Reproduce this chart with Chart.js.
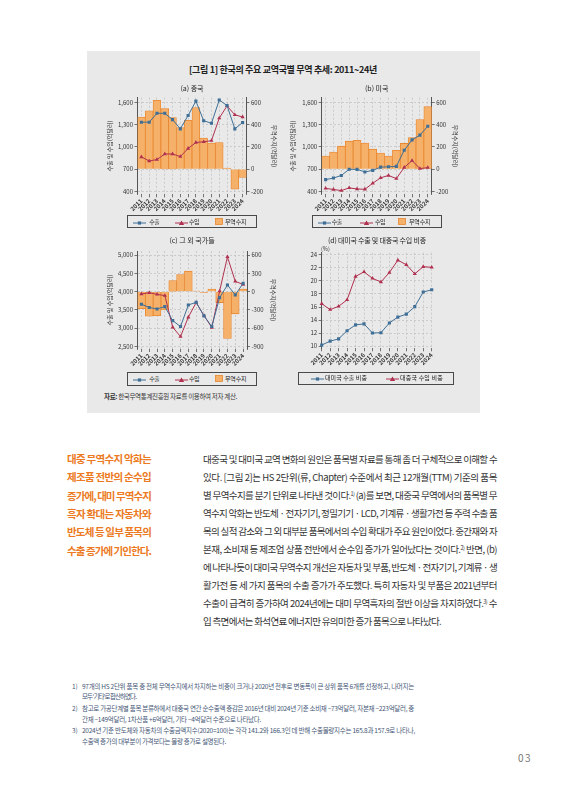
<!DOCTYPE html>
<html><head><meta charset="utf-8">
<script src="https://cdn.jsdelivr.net/npm/chart.js@4.4.1/dist/chart.umd.min.js"></script>
<style>
html,body{margin:0;padding:0;background:#fff;}
body{width:566px;height:800px;position:relative;overflow:hidden;font-family:'Noto Sans CJK KR','Noto Sans',sans-serif;color:#333;}
#box{position:absolute;left:87px;top:51px;width:393px;height:362px;background:#e9e9e9;}
canvas{position:absolute;}
.t{position:absolute;white-space:nowrap;line-height:12px;}
.t sup{font-size:5.5px;vertical-align:3px;line-height:0;}
.lg{position:absolute;border:1px solid #4a4a4a;box-sizing:border-box;}
.ic{position:absolute;line-height:0;}
</style>
</head><body>
<div id="box"></div>
<canvas id="cA" width="190" height="125" style="left:98px;top:92px"></canvas>
<canvas id="cB" width="190" height="125" style="left:283px;top:92px"></canvas>
<canvas id="cC" width="190" height="125" style="left:98px;top:245px"></canvas>
<canvas id="cD" width="190" height="125" style="left:283px;top:245px"></canvas>
<script>
// ---------- DATA ----------
const years = ['2011','2012','2013','2014','2015','2016','2017','2018','2019','2020','2021','2022','2023','2024'];
const chinaExports = [1335,1335,1455,1455,1370,1245,1425,1620,1355,1320,1635,1560,1245,1330];
const chinaImports = [865,810,830,905,905,870,980,1060,1070,1085,1390,1555,1435,1405];
const chinaBalance = [470,525,620,545,465,375,440,555,280,235,240,10,-180,-75];
const usExports = [558,580,615,698,697,662,684,727,732,737,955,1096,1160,1280];
const usImports = [440,425,410,447,432,428,510,583,615,572,723,815,708,720];
const usBalance = [118,154,207,252,260,235,180,145,118,170,232,285,447,563];
const otherExports = [3655,3565,3525,3590,3205,3045,3635,3705,3335,3045,3835,4180,3910,4225];
const otherImports = [3935,3970,3925,3890,3025,2770,3300,3700,3345,3015,4015,4950,4280,4195];
const otherBalance = [-280,-405,-395,-300,180,280,335,10,-15,40,-180,-770,-365,40];
const usExportShare = [10.15,10.75,11.1,12.35,13.25,13.4,12.0,12.05,13.55,14.45,14.9,16.05,18.3,18.65];
const chinaImportShare = [16.5,15.6,16.1,17.1,20.7,21.4,20.4,19.85,21.3,23.2,22.5,21.1,22.2,22.1];
const tradeTicks = [400,700,1000,1300,1600];
const balanceTicks = [-200,0,200,400,600];
const otherTradeTicks = [2500,3000,3500,4000,4500,5000];
const otherBalanceTicks = [-900,-600,-300,0,300,600];
const shareTicks = [10,12,14,16,18,20,22,24];

// ---------- STYLE ----------
const BLUE='#3f6f96', RED='#b0304f', ORANGE='#f5b069', ORANGE_D='#e8862e', GRID='#b8b8b8', AX='#555';
Chart.defaults.font.family="'Noto Sans CJK KR','Noto Sans',sans-serif";
Chart.defaults.font.size=6;
Chart.defaults.color='#333';

function xScale(h, offset){
  return {type:'category', offset:offset,
    grid:{display:true, offset:false, color:GRID, lineWidth:0.6, drawTicks:true, tickLength:3, tickColor:AX, tickWidth:0.8},
    border:{display:false, dash:[2,2]},
    ticks:{minRotation:45, maxRotation:45, autoSkip:false, padding:0, font:{size:6, weight:'bold'}, color:'#333'},
    afterFit:s=>{s.height=h;}};
}
function fmt(v){return Number(v).toLocaleString('en-US');}
function yScale(pos, min, max, ticks, w, title, titlePad, grid){
  const o={position:pos, min:min, max:max,
    afterBuildTicks:s=>{s.ticks=ticks.map(v=>({value:v}));},
    afterFit:s=>{s.width=w;},
    grid:{display:true, drawOnChartArea:grid, color:GRID, lineWidth:0.6, drawTicks:true, tickLength:3, tickColor:AX, tickWidth:0.8},
    border:{display:true, color:AX, width:1, dash:[2,2]},
    ticks:{padding:1.5, font:{size:6}, color:'#333', callback:v=>fmt(v)}};
  if(title){o.title={display:true, text:title, font:{size:6}, color:'#333', padding:{top:titlePad,bottom:0}};}
  return o;
}
function tradeChart(id, exp, imp, bal, lt, rt, lmin, lmax, rmin, rmax, g){
  return new Chart(document.getElementById(id),{
    type:'bar',
    data:{labels:years, datasets:[
      {type:'line', label:'수출', data:exp, yAxisID:'y', borderColor:BLUE, backgroundColor:BLUE, borderWidth:1, pointStyle:'rect', pointRadius:2.2, pointBorderWidth:0, order:1},
      {type:'line', label:'수입', data:imp, yAxisID:'y', borderColor:RED, backgroundColor:RED, borderWidth:1, pointStyle:'triangle', pointRadius:2.4, pointBorderWidth:0, order:2},
      {type:'bar', label:'무역수지', data:bal, yAxisID:'y1', backgroundColor:ORANGE, borderColor:ORANGE_D, borderWidth:0.8, barPercentage:1, categoryPercentage:1, order:3}
    ]},
    options:{responsive:false, animation:false, events:[],
      layout:{padding:{top:g.top,left:0,right:0,bottom:0}},
      plugins:{legend:{display:false}, tooltip:{enabled:false}},
      scales:{
        x:xScale(g.xh, true),
        y:yScale('left', lmin, lmax, lt, g.lw, '수출 및 수입(억달러)', g.lp, true),
        y1:yScale('right', rmin, rmax, rt, g.rw, '무역수지(억달러)', g.rp, false)
      }}
  });
}
// left axis (trade) and right axis (balance) aligned: 700 <-> 0, 300 <-> 200
tradeChart('cA', chinaExports, chinaImports, chinaBalance, tradeTicks, balanceTicks, 360, 1666, -226.7, 644, {top:5.7, xh:22.7, lw:39.5, rw:41.5, lp:8.4, rp:10.4});
tradeChart('cB', usExports, usImports, usBalance, tradeTicks, balanceTicks, 360, 1666, -226.7, 644, {top:5.7, xh:22.7, lw:38.7, rw:41.3, lp:6.4, rp:14.4});
tradeChart('cC', otherExports, otherImports, otherBalance, otherTradeTicks, otherBalanceTicks, 2430, 5110, -942, 666, {top:6, xh:21, lw:39.5, rw:41, lp:8.4, rp:11});

new Chart(document.getElementById('cD'),{
  type:'line',
  data:{labels:years, datasets:[
    {label:'대미국 수출 비중', data:usExportShare, borderColor:BLUE, backgroundColor:BLUE, borderWidth:1, pointStyle:'rect', pointRadius:2.2, pointBorderWidth:0},
    {label:'대중국 수입 비중', data:chinaImportShare, borderColor:RED, backgroundColor:RED, borderWidth:1, pointStyle:'triangle', pointRadius:2.4, pointBorderWidth:0}
  ]},
  options:{responsive:false, animation:false, events:[],
    layout:{padding:{top:7.7,left:0,right:41.3,bottom:0}},
    plugins:{legend:{display:false}, tooltip:{enabled:false}},
    scales:{
      x:xScale(21.7, false),
      y:yScale('left', 9.65, 24.35, shareTicks, 38.7, null, 0, true)
    }}
});

// ---------- TEXT ----------
function fit(d, target){
  d.style.letterSpacing='0px';
  const w0=d.getBoundingClientRect().width;
  const n=d.textContent.length;
  d.style.letterSpacing=((target-w0)/n)+'px';
}
function place(html, x, cy, size, o){
  o=o||{};
  const d=document.createElement('div');
  d.className='t'; d.innerHTML=html;
  d.style.left=x+'px'; d.style.top=(cy-6)+'px'; d.style.fontSize=size+'px';
  if(o.color) d.style.color=o.color;
  if(o.bold) d.style.fontWeight='700';
  if(o.ls!==undefined) d.style.letterSpacing=o.ls+'px';
  document.body.appendChild(d);
  if(o.w) fit(d,o.w);
  if(o.center){const w=d.getBoundingClientRect().width; d.style.left=(x-w/2)+'px';}
  return d;
}
place('[그림 1] 한국의 주요 교역국별 무역 추세: 2011~24년', 189, 70, 9, {bold:true, w:188, color:'#222'});
place('(a) 중국', 192, 88, 7, {center:true, color:'#222'});
place('(b) 미국', 376.7, 88, 7, {center:true, color:'#222'});
place('(c) 그 외 국가들', 192, 240, 7, {center:true, color:'#222'});
place('(d) 대미국 수출 및 대중국 수입 비중', 377, 240, 7, {center:true, color:'#222', ls:-0.2});
place('(%)', 321, 249, 5.5, {color:'#333'});
place('<b>자료:</b> 한국무역통계진흥원 자료를 이용하여 저자 계산.', 104, 396, 6.5, {w:133, color:'#333'});

// legends
function icon(kind, c, x, cy){
  const d=document.createElement('div'); d.className='ic';
  let s;
  if(kind==='rect') s=`<svg width="13" height="6"><line x1="0" y1="3" x2="13" y2="3" stroke="${c}" stroke-width="1"/><rect x="4.9" y="1.4" width="3.2" height="3.2" fill="${c}"/></svg>`;
  else if(kind==='tri') s=`<svg width="13" height="6"><line x1="0" y1="3" x2="13" y2="3" stroke="${c}" stroke-width="1"/><polygon points="6.5,0.6 9.2,5 3.8,5" fill="${c}"/></svg>`;
  else s=`<svg width="8" height="7"><rect x="0.5" y="0.5" width="7" height="6" fill="${ORANGE}" stroke="${ORANGE_D}" stroke-width="0.8"/></svg>`;
  d.innerHTML=s;
  d.style.left=x+'px'; d.style.top=(cy-(kind==='bar'?3.5:3))+'px';
  document.body.appendChild(d);
}
function legendBox(x,y,w,h){const d=document.createElement('div');d.className='lg';d.style.left=x+'px';d.style.top=y+'px';d.style.width=w+'px';d.style.height=h+'px';document.body.appendChild(d);}
function tradeLegend(x0, y, h, pos){
  legendBox(x0, y, 130, h);
  const cy=y+h/2;
  icon('rect', BLUE, pos[0], cy); place('수출', pos[1], cy, 6, {w:10, color:'#222'});
  icon('tri', RED, pos[2], cy); place('수입', pos[3], cy, 6, {w:10, color:'#222'});
  icon('bar', null, pos[4], cy); place('무역수지', pos[5], cy, 6, {w:21.5, color:'#222'});
}
tradeLegend(126.7, 215, 13.3, [133.3,149.3,175,189,215,225]);
tradeLegend(311.7, 215, 13.3, [318,331.7,360,375,398,409]);
tradeLegend(126.7, 371.7, 14.3, [133.3,149.3,175,189,215,225]);
legendBox(298.3, 371.7, 155.7, 13.3);
icon('rect', BLUE, 310.5, 378.3); place('대미국 수출 비중', 325, 378.3, 6, {w:42, color:'#222'});
icon('tri', RED, 386, 378.3); place('대중국 수입 비중', 400, 378.3, 6, {w:43, color:'#222'});

// side column
const sideLines=['대중 무역수지 악화는','제조품 전반의 순수입','증가에, 대미 무역수지','흑자 확대는 자동차와','반도체 등 일부 품목의','수출 증가에 기인한다.'];
sideLines.forEach((s,i)=>place(s, 67, 459+i*18.3, 10.5, {bold:true, color:'#ec7a23', w:84}));

// body
const bodyLines=[
 '대중국 및 대미국 교역 변화의 원인은 품목별 자료를 통해 좀 더 구체적으로 이해할 수',
 '있다. [그림 2]는 HS 2단위(류, Chapter) 수준에서 최근 12개월(TTM) 기준의 품목',
 '별 무역수지를 분기 단위로 나타낸 것이다.<sup>1)</sup> (a)를 보면, 대중국 무역에서의 품목별 무',
 '역수지 악화는 반도체 · 전자기기, 정밀기기 · LCD, 기계류 · 생활가전 등 주력 수출 품',
 '목의 실적 감소와 그 외 대부분 품목에서의 수입 확대가 주요 원인이었다. 중간재와 자',
 '본재, 소비재 등 제조업 상품 전반에서 순수입 증가가 일어났다는 것이다.<sup>2)</sup> 반면, (b)',
 '에 나타나듯이 대미국 무역수지 개선은 자동차 및 부품, 반도체 · 전자기기, 기계류 · 생',
 '활가전 등 세 가지 품목의 수출 증가가 주도했다. 특히 자동차 및 부품은 2021년부터',
 '수출이 급격히 증가하여 2024년에는 대미 무역흑자의 절반 이상을 차지하였다.<sup>3)</sup> 수',
 '입 측면에서는 화석연료 에너지만 유의미한 증가 품목으로 나타났다.'];
bodyLines.forEach((s,i)=>place(s, 203, 459+i*18, 9.5, {color:'#333', w: i<9?294:238}));

// footnotes
const FN='#3f5675';
const notes=[
 ['1)','97개의 HS 2단위 품목 중 전체 무역수지에서 차지하는 비중이 크거나 2020년 전후로 변동폭이 큰 상위 품목 6개를 선정하고, 나머지는',332,'모두 ‘기타’로 합산하였다.',54],
 ['2)','참고로 가공단계별 품목 분류하에서 대중국 연간 순수출액 증감은 2016년 대비 2024년 기준 소비재 −73억달러, 자본재 −223억달러, 중',332,'간재 −149억달러, 1차산품 +6억달러, 기타 −4억달러 수준으로 나타났다.',179],
 ['3)','2024년 기준 반도체와 자동차의 수출금액지수(2020=100)는 각각 141.2와 166.3인 데 반해 수출물량지수는 165.8과 157.9로 나타나,',333,'수출액 증가의 대부분이 가격보다는 물량 증가로 설명된다.',144]];
const noteY=[[685.5,696],[708,718.5],[730,740.5]];
notes.forEach((n,i)=>{
  place(n[0], 72, noteY[i][0], 6.5, {color:FN});
  place(n[1], 82, noteY[i][0], 6.5, {color:FN, w:n[2]});
  place(n[3], 82, noteY[i][1], 6.5, {color:FN, w:n[4]});
});
place('03', 518, 758.3, 10, {color:'#777', ls:1.5});
</script>
</body></html>
